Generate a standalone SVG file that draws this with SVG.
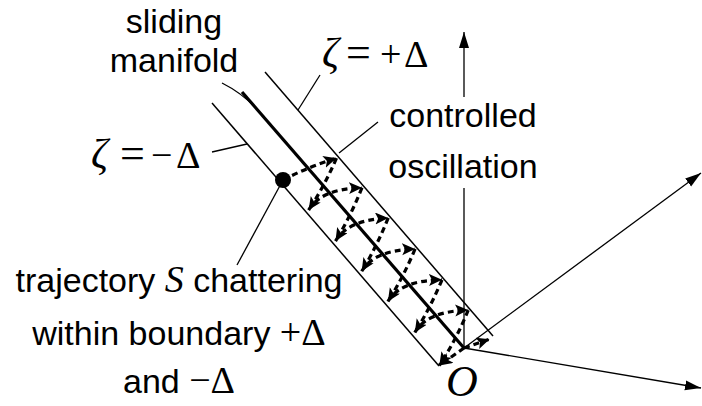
<svg xmlns="http://www.w3.org/2000/svg" width="702" height="406" viewBox="0 0 702 406">
<style>
.thin{fill:none;stroke:#000;stroke-width:1.3}
.band{fill:none;stroke:#000;stroke-width:1.5}
.thick{fill:none;stroke:#000;stroke-width:3.2}
.dash{fill:none;stroke:#000;stroke-width:3.2;stroke-dasharray:6 4;marker-end:url(#sm)}
.ax{fill:none;stroke:#000;stroke-width:1.3}
.sans{font-family:"Liberation Sans",Arial,sans-serif;font-size:34px;fill:#000}
.ser{font-family:"Liberation Serif","Times New Roman",serif;fill:#000}
.it{font-style:italic}
</style>
<defs>
<marker id="big" markerUnits="userSpaceOnUse" markerWidth="18" markerHeight="12" refX="16" refY="5" orient="auto">
<path d="M0,0 L16,5 L0,10 z" fill="#000"/>
</marker>
<marker id="sm" markerUnits="userSpaceOnUse" markerWidth="16" markerHeight="14" refX="13" refY="6" orient="auto">
<path d="M0,0 L13,6 L0,12 L3,6 z" fill="#000"/>
</marker>
</defs>

<g id="axes">
<path class="ax" d="M464,188 V348"/>
<path class="ax" d="M464,97 V32" marker-end="url(#big)"/>
<path class="ax" d="M464,348 L701,173" marker-end="url(#big)"/>
<path class="ax" d="M464,348 L701,388" marker-end="url(#big)"/>
</g>

<g id="band">
<path class="band" d="M212,103 L439,366"/>
<path class="band" d="M265,72 L493,336"/>
<path class="thick" d="M242,92 L464,348"/>
</g>

<g id="trajectory">
<circle cx="283" cy="180" r="8" fill="#000"/>
<path class="dash" d="M283,180 Q310,166 336.5,158.2"/>
<path class="dash" d="M336.5,158.2 Q324.1,186.7 308.6,210.1"/>
<path class="dash" d="M308.6,210.1 Q320.8,189 362,187.7"/>
<path class="dash" d="M362,187.7 Q350.3,216.9 335.5,241.1"/>
<path class="dash" d="M335.5,241.1 Q347.6,219.9 388.2,217.9"/>
<path class="dash" d="M388.2,217.9 Q376.5,247.2 361.7,271.3"/>
<path class="dash" d="M361.7,271.3 Q373.9,250.2 415.1,248.9"/>
<path class="dash" d="M415.1,248.9 Q403.1,277.7 387.9,301.5"/>
<path class="dash" d="M387.9,301.5 Q400.1,280.4 442,279.8"/>
<path class="dash" d="M442,279.8 Q429.9,308.7 414.8,332.5"/>
<path class="dash" d="M414.8,332.5 Q426.9,311.3 468.2,310.1"/>
<path class="dash" d="M468.2,310.1 Q456.5,339.3 439.3,365.4"/>
<path class="dash" d="M464,348 L439.3,365.4"/>
<path class="dash" d="M464,348 L489.5,339.2"/>
</g>

<g id="leaders">
<path class="thin" d="M222,83 Q242,93 258,110"/>
<path class="thin" d="M320,75 L298,110"/>
<path class="thin" d="M212,152 L247,144"/>
<path class="thin" d="M378,122 L339,153"/>
<path class="thin" d="M283,180 L237,265"/>
</g>

<g id="labels">
<text class="sans" x="174" y="33" text-anchor="middle">sliding</text>
<text class="sans" x="174" y="72" text-anchor="middle">manifold</text>
<text class="ser" font-size="38"><tspan class="it" font-size="42" x="322" y="67">ζ</tspan><tspan font-size="44" x="346" y="67">=</tspan><tspan x="380" y="67">+</tspan><tspan x="404" y="67">Δ</tspan></text>
<text class="ser" font-size="38"><tspan class="it" font-size="42" x="91" y="168">ζ</tspan><tspan font-size="44" x="120" y="168">=</tspan><tspan x="151" y="168">−</tspan><tspan x="176" y="168">Δ</tspan></text>
<text class="sans" x="463" y="127" text-anchor="middle">controlled</text>
<text class="sans" x="463" y="178" text-anchor="middle">oscillation</text>
<text class="sans" x="179" y="292" text-anchor="middle">trajectory <tspan class="ser it" font-size="38">S</tspan> chattering</text>
<text class="sans" x="179" y="345" text-anchor="middle">within boundary <tspan class="ser" font-size="38">+Δ</tspan></text>
<text class="sans" x="179" y="393" text-anchor="middle">and <tspan class="ser" font-size="38">−Δ</tspan></text>
<text class="ser it" font-size="44" x="462" y="396" text-anchor="middle">O</text>
</g>
</svg>
